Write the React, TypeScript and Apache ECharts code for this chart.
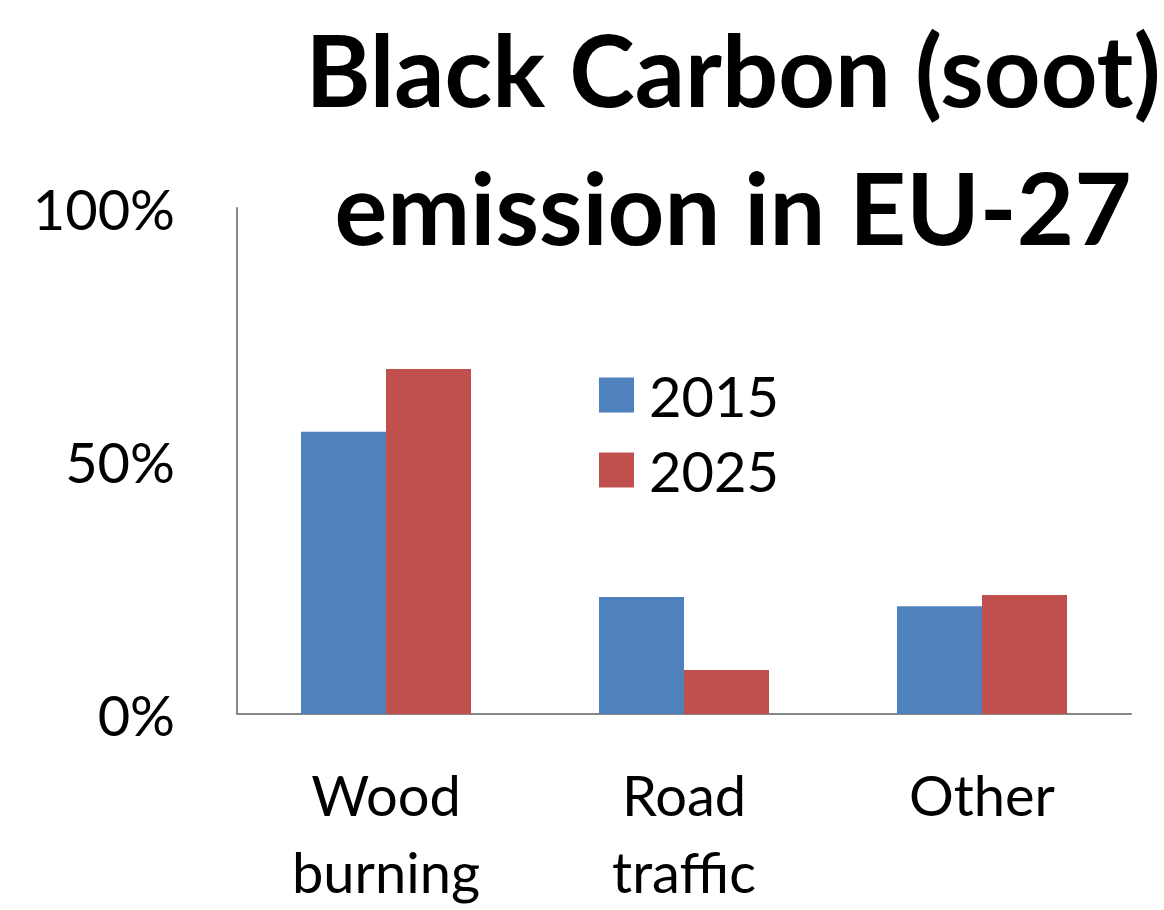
import React, { useEffect, useRef } from "react";
import * as echarts from "echarts";

const categories = ["Wood\nburning", "Road\ntraffic", "Other"];
const values2015 = [55.8, 23.1, 21.3];
const values2025 = [68.2, 8.7, 23.5];
const yTicks = [0, 50, 100];

const FONT = "Lato, 'Open Sans', sans-serif";

export default function App() {
  const ref = useRef<HTMLDivElement>(null);
  useEffect(() => {
    const chart = echarts.init(ref.current!, null, { renderer: "svg" });
    chart.setOption({
      animation: false,
      backgroundColor: "#ffffff",
      title: {
        text: "Black Carbon (soot)\nemission in EU-27",
        left: 728,
        top: -6,
        textAlign: "center",
        textStyle: {
          fontFamily: FONT,
          fontWeight: "bold",
          fontSize: 99,
          lineHeight: 138,
          color: "#000000",
        },
      },
      legend: {
        orient: "vertical",
        left: 594,
        top: 362,
        itemWidth: 35,
        itemHeight: 35,
        itemGap: 19,
        icon: "rect",
        textStyle: {
          fontFamily: FONT,
          fontSize: 56,
          color: "#000000",
          padding: [0, 0, 0, 10],
        },
        data: ["2015", "2025"],
      },
      grid: { left: 237, right: 33, top: 208, bottom: 192, containLabel: false },
      xAxis: {
        type: "category",
        data: categories,
        axisLine: { lineStyle: { color: "#868686", width: 2 } },
        axisTick: { show: false },
        axisLabel: {
          fontFamily: FONT,
          fontSize: 56,
          lineHeight: 77,
          color: "#000000",
          margin: 42,
        },
      },
      yAxis: {
        type: "value",
        min: yTicks[0],
        max: yTicks[yTicks.length - 1],
        interval: 50,
        axisLine: { show: true, lineStyle: { color: "#868686", width: 2 } },
        axisTick: { show: false },
        splitLine: { show: false },
        axisLabel: {
          formatter: "{value}%",
          fontFamily: FONT,
          fontSize: 56,
          color: "#000000",
          margin: 62,
        },
      },
      series: [
        {
          name: "2015",
          type: "bar",
          data: values2015,
          barWidth: 85,
          barGap: "0%",
          itemStyle: { color: "#4F81BD" },
        },
        {
          name: "2025",
          type: "bar",
          data: values2025,
          barWidth: 85,
          barGap: "0%",
          itemStyle: { color: "#C0504D" },
        },
      ],
    });
    return () => chart.dispose();
  }, []);
  return (
    <div
      ref={ref}
      style={{ position: "fixed", left: 0, top: 0, width: 1164, height: 910 }}
    />
  );
}
